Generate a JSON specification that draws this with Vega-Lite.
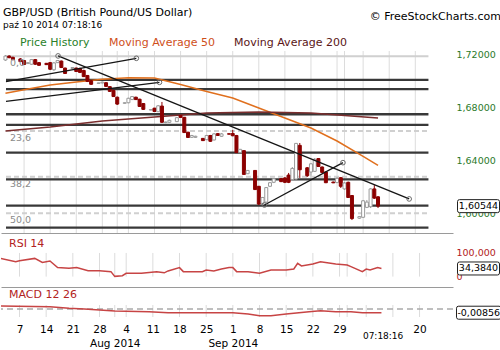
{
  "$schema": "https://vega.github.io/schema/vega-lite/v6.json",
  "autosize": "pad",
  "padding": {"left": 0, "top": 7, "right": 1.5, "bottom": 0},
  "background": "white",
  "bounds": "flush",
  "spacing": 19,
  "title": {"text": "© FreeStockCharts.com", "anchor": "end", "frame": "bounds", "fontSize": 11, "offset": 0, "dy": 15, "dx": -2},
  "config": {
    "view": {"stroke": null},
    "font": "DejaVu Sans",
    "title": {"fontWeight": "normal", "color": "#000000", "font": "DejaVu Sans", "subtitleFont": "DejaVu Sans"},
    "axis": {"labelFont": "DejaVu Sans", "labelOverlap": false},
    "locale": {"number": {"decimal": ",", "thousands": " ", "grouping": [3], "currency": ["", " zł"], "minus": "-"}}
  },
  "datasets": {
    "candles": [
      {"d":"2014-07-02","o":1.7162,"h":1.7200,"l":1.7155,"c":1.7192},
      {"d":"2014-07-03","o":1.7192,"h":1.7198,"l":1.7175,"c":1.7180},
      {"d":"2014-07-04","o":1.7182,"h":1.7188,"l":1.7160,"c":1.7165},
      {"d":"2014-07-06","o":1.7170,"h":1.7177,"l":1.7147,"c":1.7150},
      {"d":"2014-07-07","o":1.7158,"h":1.7162,"l":1.7124,"c":1.7128},
      {"d":"2014-07-08","o":1.7135,"h":1.7147,"l":1.7132,"c":1.7142},
      {"d":"2014-07-09","o":1.7130,"h":1.7170,"l":1.7124,"c":1.7165},
      {"d":"2014-07-10","o":1.7165,"h":1.7170,"l":1.7124,"c":1.7130},
      {"d":"2014-07-11","o":1.7142,"h":1.7147,"l":1.7117,"c":1.7122},
      {"d":"2014-07-13","o":1.7137,"h":1.7139,"l":1.7124,"c":1.7127},
      {"d":"2014-07-14","o":1.7142,"h":1.7147,"l":1.7086,"c":1.7092},
      {"d":"2014-07-15","o":1.7088,"h":1.7147,"l":1.7079,"c":1.7140},
      {"d":"2014-07-16","o":1.7142,"h":1.7162,"l":1.7139,"c":1.7158},
      {"d":"2014-07-17","o":1.7154,"h":1.7158,"l":1.7101,"c":1.7105},
      {"d":"2014-07-18","o":1.7101,"h":1.7104,"l":1.7056,"c":1.7060},
      {"d":"2014-07-20","o":1.7098,"h":1.7109,"l":1.7094,"c":1.7105},
      {"d":"2014-07-21","o":1.7101,"h":1.7104,"l":1.7071,"c":1.7075},
      {"d":"2014-07-22","o":1.7098,"h":1.7104,"l":1.7063,"c":1.7068},
      {"d":"2014-07-23","o":1.7083,"h":1.7088,"l":1.7033,"c":1.7036},
      {"d":"2014-07-24","o":1.7045,"h":1.7048,"l":1.6995,"c":1.7000},
      {"d":"2014-07-25","o":1.7005,"h":1.7010,"l":1.6973,"c":1.6978},
      {"d":"2014-07-27","o":1.6985,"h":1.6990,"l":1.6983,"c":1.6988},
      {"d":"2014-07-28","o":1.6988,"h":1.6997,"l":1.6985,"c":1.6994},
      {"d":"2014-07-29","o":1.6990,"h":1.6993,"l":1.6957,"c":1.6962},
      {"d":"2014-07-30","o":1.6960,"h":1.6962,"l":1.6920,"c":1.6924},
      {"d":"2014-07-31","o":1.6932,"h":1.6935,"l":1.6882,"c":1.6885},
      {"d":"2014-08-01","o":1.6880,"h":1.6885,"l":1.6821,"c":1.6828},
      {"d":"2014-08-03","o":1.6834,"h":1.6840,"l":1.6831,"c":1.6838},
      {"d":"2014-08-04","o":1.6838,"h":1.6876,"l":1.6834,"c":1.6872},
      {"d":"2014-08-05","o":1.6862,"h":1.6889,"l":1.6859,"c":1.6885},
      {"d":"2014-08-06","o":1.6880,"h":1.6884,"l":1.6859,"c":1.6862},
      {"d":"2014-08-07","o":1.6865,"h":1.6868,"l":1.6806,"c":1.6810},
      {"d":"2014-08-08","o":1.6832,"h":1.6836,"l":1.6783,"c":1.6788},
      {"d":"2014-08-10","o":1.6783,"h":1.6788,"l":1.6780,"c":1.6786},
      {"d":"2014-08-11","o":1.6797,"h":1.6799,"l":1.6768,"c":1.6772},
      {"d":"2014-08-12","o":1.6770,"h":1.6821,"l":1.6768,"c":1.6815},
      {"d":"2014-08-13","o":1.6813,"h":1.6844,"l":1.6685,"c":1.6690},
      {"d":"2014-08-14","o":1.6688,"h":1.6695,"l":1.6683,"c":1.6692},
      {"d":"2014-08-15","o":1.6690,"h":1.6710,"l":1.6685,"c":1.6705},
      {"d":"2014-08-17","o":1.6695,"h":1.6730,"l":1.6692,"c":1.6725},
      {"d":"2014-08-18","o":1.6742,"h":1.6745,"l":1.6723,"c":1.6727},
      {"d":"2014-08-19","o":1.6728,"h":1.6730,"l":1.6609,"c":1.6612},
      {"d":"2014-08-20","o":1.6615,"h":1.6617,"l":1.6571,"c":1.6575},
      {"d":"2014-08-21","o":1.6576,"h":1.6594,"l":1.6571,"c":1.6590},
      {"d":"2014-08-22","o":1.6576,"h":1.6588,"l":1.6571,"c":1.6584},
      {"d":"2014-08-24","o":1.6568,"h":1.6571,"l":1.6548,"c":1.6551},
      {"d":"2014-08-25","o":1.6558,"h":1.6594,"l":1.6556,"c":1.6590},
      {"d":"2014-08-26","o":1.6590,"h":1.6594,"l":1.6541,"c":1.6546},
      {"d":"2014-08-27","o":1.6556,"h":1.6609,"l":1.6552,"c":1.6602},
      {"d":"2014-08-28","o":1.6604,"h":1.6609,"l":1.6586,"c":1.6590},
      {"d":"2014-08-29","o":1.6584,"h":1.6609,"l":1.6579,"c":1.6602},
      {"d":"2014-08-31","o":1.6603,"h":1.6605,"l":1.6597,"c":1.6600},
      {"d":"2014-09-01","o":1.6605,"h":1.6632,"l":1.6584,"c":1.6588},
      {"d":"2014-09-02","o":1.6590,"h":1.6594,"l":1.6457,"c":1.6460},
      {"d":"2014-09-03","o":1.6460,"h":1.6488,"l":1.6457,"c":1.6485},
      {"d":"2014-09-04","o":1.6475,"h":1.6478,"l":1.6291,"c":1.6295},
      {"d":"2014-09-05","o":1.6300,"h":1.6328,"l":1.6298,"c":1.6325},
      {"d":"2014-09-07","o":1.6325,"h":1.6328,"l":1.6177,"c":1.6180},
      {"d":"2014-09-08","o":1.6205,"h":1.6207,"l":1.6063,"c":1.6070},
      {"d":"2014-09-09","o":1.6075,"h":1.6124,"l":1.6063,"c":1.6120},
      {"d":"2014-09-10","o":1.6085,"h":1.6199,"l":1.6078,"c":1.6195},
      {"d":"2014-09-11","o":1.6205,"h":1.6237,"l":1.6199,"c":1.6232},
      {"d":"2014-09-12","o":1.6235,"h":1.6268,"l":1.6229,"c":1.6262},
      {"d":"2014-09-14","o":1.6262,"h":1.6268,"l":1.6237,"c":1.6240},
      {"d":"2014-09-15","o":1.6268,"h":1.6275,"l":1.6229,"c":1.6235},
      {"d":"2014-09-16","o":1.6290,"h":1.6306,"l":1.6229,"c":1.6235},
      {"d":"2014-09-17","o":1.6255,"h":1.6351,"l":1.6253,"c":1.6340},
      {"d":"2014-09-18","o":1.6260,"h":1.6533,"l":1.6253,"c":1.6530},
      {"d":"2014-09-19","o":1.6515,"h":1.6533,"l":1.6268,"c":1.6330},
      {"d":"2014-09-21","o":1.6345,"h":1.6351,"l":1.6275,"c":1.6285},
      {"d":"2014-09-22","o":1.6313,"h":1.6381,"l":1.6285,"c":1.6375},
      {"d":"2014-09-23","o":1.6318,"h":1.6419,"l":1.6313,"c":1.6410},
      {"d":"2014-09-24","o":1.6415,"h":1.6419,"l":1.6351,"c":1.6355},
      {"d":"2014-09-25","o":1.6351,"h":1.6355,"l":1.6306,"c":1.6310},
      {"d":"2014-09-26","o":1.6313,"h":1.6317,"l":1.6229,"c":1.6232},
      {"d":"2014-09-28","o":1.6237,"h":1.6240,"l":1.6229,"c":1.6231},
      {"d":"2014-09-29","o":1.6233,"h":1.6275,"l":1.6229,"c":1.6265},
      {"d":"2014-09-30","o":1.6270,"h":1.6275,"l":1.6192,"c":1.6205},
      {"d":"2014-10-01","o":1.6185,"h":1.6237,"l":1.6177,"c":1.6230},
      {"d":"2014-10-02","o":1.6235,"h":1.6240,"l":1.6116,"c":1.6120},
      {"d":"2014-10-03","o":1.6135,"h":1.6139,"l":1.5949,"c":1.5960},
      {"d":"2014-10-05","o":1.5963,"h":1.5980,"l":1.5957,"c":1.5975},
      {"d":"2014-10-06","o":1.5970,"h":1.6101,"l":1.5965,"c":1.6095},
      {"d":"2014-10-07","o":1.6045,"h":1.6101,"l":1.6040,"c":1.6085},
      {"d":"2014-10-08","o":1.6050,"h":1.6192,"l":1.6040,"c":1.6185},
      {"d":"2014-10-09","o":1.6185,"h":1.6214,"l":1.6109,"c":1.6115},
      {"d":"2014-10-10","o":1.6125,"h":1.6131,"l":1.6040,"c":1.60544}
    ],
    "ma": [
      {"d":"2014-07-02","s":"Moving Average 50","v":1.6910},
      {"d":"2014-07-07","s":"Moving Average 50","v":1.6936},
      {"d":"2014-07-14","s":"Moving Average 50","v":1.6973},
      {"d":"2014-07-21","s":"Moving Average 50","v":1.6995},
      {"d":"2014-07-28","s":"Moving Average 50","v":1.7017},
      {"d":"2014-08-04","s":"Moving Average 50","v":1.7027},
      {"d":"2014-08-11","s":"Moving Average 50","v":1.7026},
      {"d":"2014-08-18","s":"Moving Average 50","v":1.6976},
      {"d":"2014-08-25","s":"Moving Average 50","v":1.6923},
      {"d":"2014-09-01","s":"Moving Average 50","v":1.6874},
      {"d":"2014-09-08","s":"Moving Average 50","v":1.6798},
      {"d":"2014-09-15","s":"Moving Average 50","v":1.6723},
      {"d":"2014-09-22","s":"Moving Average 50","v":1.6647},
      {"d":"2014-09-29","s":"Moving Average 50","v":1.6548},
      {"d":"2014-10-06","s":"Moving Average 50","v":1.6431},
      {"d":"2014-10-10","s":"Moving Average 50","v":1.6363},
      {"d":"2014-07-02","s":"Moving Average 200","v":1.6624},
      {"d":"2014-07-14","s":"Moving Average 200","v":1.6654},
      {"d":"2014-07-28","s":"Moving Average 200","v":1.6700},
      {"d":"2014-08-11","s":"Moving Average 200","v":1.6730},
      {"d":"2014-08-25","s":"Moving Average 200","v":1.6761},
      {"d":"2014-09-08","s":"Moving Average 200","v":1.6768},
      {"d":"2014-09-22","s":"Moving Average 200","v":1.6761},
      {"d":"2014-10-01","s":"Moving Average 200","v":1.6742},
      {"d":"2014-10-10","s":"Moving Average 200","v":1.6723}
    ],
    "hlines": [
      {"p":1.7011,"from":"2014-07-02T03:27:00Z","to":"2014-10-23T12:45:00Z"},
      {"p":1.6942,"from":"2014-07-02T03:27:00Z","to":"2014-10-23T12:45:00Z"},
      {"p":1.6751,"from":"2014-07-02T03:27:00Z","to":"2014-10-23T12:45:00Z"},
      {"p":1.6670,"from":"2014-07-02T03:27:00Z","to":"2014-10-23T12:45:00Z"},
      {"p":1.6460,"from":"2014-07-02T03:27:00Z","to":"2014-10-23T12:45:00Z"},
      {"p":1.6258,"from":"2014-07-02T03:27:00Z","to":"2014-10-23T12:45:00Z"},
      {"p":1.6058,"from":"2014-07-02T03:27:00Z","to":"2014-10-23T12:45:00Z"},
      {"p":1.5891,"from":"2014-07-02T03:27:00Z","to":"2014-10-23T12:45:00Z"}
    ],
    "fib": [
      {"lvl":"0,0","p":1.7190,"from":"2014-07-02T03:27:00Z","to":"2014-10-23T12:45:00Z"},
      {"lvl":"23,6","p":1.6624,"from":"2014-07-02T03:27:00Z","to":"2014-10-23T12:45:00Z"},
      {"lvl":"38,2","p":1.6278,"from":"2014-07-02T03:27:00Z","to":"2014-10-23T12:45:00Z"},
      {"lvl":"50,0","p":1.6000,"from":"2014-07-02T03:27:00Z","to":"2014-10-23T12:45:00Z"}
    ],
    "trend": [
      {"id":1,"d":"2014-07-02T03:27:00Z","p":1.6998,"knob":false},
      {"id":1,"d":"2014-08-06T03:00:00Z","p":1.7175,"knob":true},
      {"id":2,"d":"2014-07-02T03:27:00Z","p":1.6848,"knob":false},
      {"id":2,"d":"2014-08-12T08:00:00Z","p":1.6993,"knob":true},
      {"id":3,"d":"2014-07-16T03:00:00Z","p":1.7193,"knob":true},
      {"id":3,"d":"2014-10-18T08:40:00Z","p":1.6109,"knob":true},
      {"id":4,"d":"2014-09-09T12:00:00Z","p":1.6063,"knob":true},
      {"id":4,"d":"2014-09-30T14:00:00Z","p":1.6384,"knob":true}
    ],
    "grid": [
      {"d":"2014-07-07"},{"d":"2014-07-14"},{"d":"2014-07-21"},{"d":"2014-07-28"},
      {"d":"2014-08-01"},{"d":"2014-08-04"},{"d":"2014-08-11"},{"d":"2014-08-18"},{"d":"2014-08-25"},
      {"d":"2014-09-01"},{"d":"2014-09-08"},{"d":"2014-09-15"},{"d":"2014-09-22"},{"d":"2014-09-29"},
      {"d":"2014-10-01"},{"d":"2014-10-06"},{"d":"2014-10-13"},{"d":"2014-10-20"}
    ],
    "rsi": [
      {"d":"2014-07-02","v":77},{"d":"2014-07-06","v":63},{"d":"2014-07-07","v":67},{"d":"2014-07-11","v":77},
      {"d":"2014-07-13","v":60},{"d":"2014-07-15","v":66},{"d":"2014-07-17","v":38},{"d":"2014-07-20","v":35},
      {"d":"2014-07-22","v":38},{"d":"2014-07-25","v":25},{"d":"2014-07-28","v":25},{"d":"2014-07-31","v":21},
      {"d":"2014-08-01","v":1},{"d":"2014-08-03","v":4},{"d":"2014-08-04","v":14},{"d":"2014-08-08","v":14},
      {"d":"2014-08-12","v":21},{"d":"2014-08-14","v":16},{"d":"2014-08-15","v":24},{"d":"2014-08-18","v":38},
      {"d":"2014-08-19","v":21},{"d":"2014-08-24","v":21},{"d":"2014-08-25","v":28},{"d":"2014-08-27","v":24},
      {"d":"2014-08-29","v":32},{"d":"2014-08-31","v":38},{"d":"2014-09-01","v":38},{"d":"2014-09-02","v":21},
      {"d":"2014-09-05","v":21},{"d":"2014-09-08","v":14},{"d":"2014-09-11","v":28},{"d":"2014-09-15","v":28},
      {"d":"2014-09-17","v":32},{"d":"2014-09-18","v":56},{"d":"2014-09-19","v":45},{"d":"2014-09-22","v":53},
      {"d":"2014-09-24","v":63},{"d":"2014-09-28","v":53},{"d":"2014-10-01","v":49},{"d":"2014-10-02","v":42},
      {"d":"2014-10-05","v":21},{"d":"2014-10-06","v":32},{"d":"2014-10-07","v":28},{"d":"2014-10-09","v":38},
      {"d":"2014-10-10","v":34.384}
    ],
    "macd": [
      {"d":"2014-07-02","v":0.0069},{"d":"2014-07-15","v":0.0053},{"d":"2014-07-20","v":0.0016},
      {"d":"2014-07-24","v":0.0},{"d":"2014-07-28","v":-0.0023},{"d":"2014-08-01","v":-0.0046},
      {"d":"2014-08-10","v":-0.0062},{"d":"2014-08-15","v":-0.0085},{"d":"2014-09-01","v":-0.0085},
      {"d":"2014-09-05","v":-0.0116},{"d":"2014-09-08","v":-0.0155},{"d":"2014-09-11","v":-0.0155},
      {"d":"2014-09-15","v":-0.0116},{"d":"2014-09-21","v":-0.0062},{"d":"2014-09-24","v":-0.0039},
      {"d":"2014-09-28","v":-0.0062},{"d":"2014-10-02","v":-0.0062},{"d":"2014-10-05","v":-0.0085},
      {"d":"2014-10-10","v":-0.00856}
    ]
  },
  "vconcat": [
    {
      "width": 452,
      "height": 182,
      "title": {"text": "GBP/USD (British Pound/US Dollar)", "subtitle": "paź 10 2014 07:18:16", "anchor": "start", "frame": "group", "dx": 2, "fontSize": 11, "subtitleFontSize": 9, "subtitleColor": "#000000", "offset": 19.5, "subtitlePadding": 3},
      "layer": [
        {
          "data": {"name": "grid"},
          "mark": {"type": "rule", "color": "#dcdcdc", "strokeWidth": 1},
          "encoding": {
            "x": {"field": "d", "type": "temporal", "scale": {"type": "utc", "domain": [{"year": 2014, "month": "jul", "date": 2, "hours": 3, "minutes": 27, "utc": true}, {"year": 2014, "month": "oct", "date": 28, "hours": 18, "minutes": 44, "utc": true}]},
              "axis": {"orient": "bottom", "labels": false, "ticks": false, "grid": false, "domain": true, "domainColor": "#9a9a9a", "domainWidth": 1, "title": null}}
          }
        },
        {
          "data": {"name": "fib"},
          "mark": {"type": "rule", "color": "#d0d0d0", "strokeWidth": 2, "clip": true},
          "encoding": {
            "x": {"field": "from", "type": "temporal", "scale": {"type": "utc", "domain": [{"year": 2014, "month": "jul", "date": 2, "hours": 3, "minutes": 27, "utc": true}, {"year": 2014, "month": "oct", "date": 28, "hours": 18, "minutes": 44, "utc": true}]}},
            "x2": {"field": "to"},
            "y": {"field": "p", "type": "quantitative", "scale": {"domain": [1.58508, 1.72303], "nice": false, "zero": false},
              "axis": {"orient": "right", "values": [1.6, 1.62, 1.64, 1.66, 1.68, 1.7, 1.72], "format": ".5f", "labelColor": "#2a7a2a", "labelFontSize": 9.5, "labelPadding": 3, "ticks": false, "domain": false, "grid": false, "title": null}},
            "strokeDash": {"condition": {"test": "datum.lvl == '0,0'", "value": [1, 0]}, "value": [5, 3]}
          }
        },
        {
          "data": {"name": "hlines"},
          "mark": {"type": "rule", "color": "#383838", "strokeWidth": 2.3, "clip": true},
          "encoding": {
            "x": {"field": "from", "type": "temporal", "scale": {"type": "utc", "domain": [{"year": 2014, "month": "jul", "date": 2, "hours": 3, "minutes": 27, "utc": true}, {"year": 2014, "month": "oct", "date": 28, "hours": 18, "minutes": 44, "utc": true}]}},
            "x2": {"field": "to"},
            "y": {"field": "p", "type": "quantitative", "scale": {"domain": [1.58508, 1.72303], "nice": false, "zero": false}}
          }
        },
        {
          "data": {"name": "ma"},
          "mark": {"type": "line", "strokeWidth": 1.5, "clip": true},
          "encoding": {
            "x": {"field": "d", "type": "temporal", "scale": {"type": "utc", "domain": [{"year": 2014, "month": "jul", "date": 2, "hours": 3, "minutes": 27, "utc": true}, {"year": 2014, "month": "oct", "date": 28, "hours": 18, "minutes": 44, "utc": true}]}},
            "y": {"field": "v", "type": "quantitative", "scale": {"domain": [1.58508, 1.72303], "nice": false, "zero": false}},
            "color": {"field": "s", "type": "nominal",
              "scale": {"domain": ["Price History", "Moving Average 50", "Moving Average 200"], "range": ["#2a7f2a", "#e0701e", "#7a2e2e"]},
              "legend": {"orient": "none", "legendX": 8, "legendY": -14, "direction": "horizontal", "title": null, "symbolSize": 0, "symbolStrokeWidth": 0, "symbolOpacity": 0, "labelOffset": 0, "columnPadding": 8, "padding": 0, "labelFontSize": 11, "labelFont": "DejaVu Sans",
                "labelColor": {"expr": "datum.label === 'Price History' ? '#2a7f2a' : datum.label === 'Moving Average 50' ? '#cf4f1a' : '#5a1616'"}}}
          }
        },
        {
          "data": {"name": "candles"},
          "mark": {"type": "rule", "strokeWidth": 1, "clip": true},
          "encoding": {
            "x": {"field": "d", "type": "temporal", "scale": {"type": "utc", "domain": [{"year": 2014, "month": "jul", "date": 2, "hours": 3, "minutes": 27, "utc": true}, {"year": 2014, "month": "oct", "date": 28, "hours": 18, "minutes": 44, "utc": true}]}},
            "y": {"field": "l", "type": "quantitative", "scale": {"domain": [1.58508, 1.72303], "nice": false, "zero": false}},
            "y2": {"field": "h"},
            "stroke": {"condition": {"test": "datum.c >= datum.o", "value": "#9a9a9a"}, "value": "#8b0000"}
          }
        },
        {
          "data": {"name": "candles"},
          "mark": {"type": "bar", "width": 3, "strokeWidth": 1, "clip": true},
          "encoding": {
            "x": {"field": "d", "type": "temporal", "scale": {"type": "utc", "domain": [{"year": 2014, "month": "jul", "date": 2, "hours": 3, "minutes": 27, "utc": true}, {"year": 2014, "month": "oct", "date": 28, "hours": 18, "minutes": 44, "utc": true}]}},
            "y": {"field": "o", "type": "quantitative", "scale": {"domain": [1.58508, 1.72303], "nice": false, "zero": false}},
            "y2": {"field": "c"},
            "fill": {"condition": {"test": "datum.c >= datum.o", "value": "#ffffff"}, "value": "#8b0000"},
            "stroke": {"condition": {"test": "datum.c >= datum.o", "value": "#9a9a9a"}, "value": "#8b0000"}
          }
        },
        {
          "data": {"name": "trend"},
          "mark": {"type": "line", "color": "#151515", "strokeWidth": 1.3, "clip": true},
          "encoding": {
            "x": {"field": "d", "type": "temporal", "scale": {"type": "utc", "domain": [{"year": 2014, "month": "jul", "date": 2, "hours": 3, "minutes": 27, "utc": true}, {"year": 2014, "month": "oct", "date": 28, "hours": 18, "minutes": 44, "utc": true}]}},
            "y": {"field": "p", "type": "quantitative", "scale": {"domain": [1.58508, 1.72303], "nice": false, "zero": false}},
            "detail": {"field": "id"}
          }
        },
        {
          "data": {"name": "trend"},
          "transform": [{"filter": "datum.knob"}],
          "mark": {"type": "point", "shape": "circle", "size": 22, "filled": false, "stroke": "#6a6a6a", "strokeWidth": 1, "opacity": 1},
          "encoding": {
            "x": {"field": "d", "type": "temporal", "scale": {"type": "utc", "domain": [{"year": 2014, "month": "jul", "date": 2, "hours": 3, "minutes": 27, "utc": true}, {"year": 2014, "month": "oct", "date": 28, "hours": 18, "minutes": 44, "utc": true}]}},
            "y": {"field": "p", "type": "quantitative", "scale": {"domain": [1.58508, 1.72303], "nice": false, "zero": false}}
          }
        },
        {
          "data": {"name": "fib"},
          "mark": {"type": "text", "align": "left", "baseline": "top", "dx": 4, "dy": 2, "fontSize": 9.5, "color": "#8a8a8a"},
          "encoding": {
            "x": {"field": "from", "type": "temporal", "scale": {"type": "utc", "domain": [{"year": 2014, "month": "jul", "date": 2, "hours": 3, "minutes": 27, "utc": true}, {"year": 2014, "month": "oct", "date": 28, "hours": 18, "minutes": 44, "utc": true}]}},
            "y": {"field": "p", "type": "quantitative", "scale": {"domain": [1.58508, 1.72303], "nice": false, "zero": false}},
            "text": {"field": "lvl"}
          }
        },
        {
          "data": {"name": "candles"},
          "transform": [{"window": [{"op": "row_number", "as": "rn"}], "sort": [{"field": "d", "order": "descending"}]}, {"filter": "datum.rn == 1"}],
          "layer": [
            {
              "mark": {"type": "point", "shape": "M6.5,-6.5 H44.5 Q46.5,-6.5 46.5,-4.5 V4.5 Q46.5,6.5 44.5,6.5 H6.5 Q4.5,6.5 4.5,4.5 V-4.5 Q4.5,-6.5 6.5,-6.5 Z", "size": 4, "filled": true, "fill": "#ffffff", "stroke": "#222222", "strokeWidth": 1, "opacity": 1, "clip": false},
              "encoding": {
                "x": {"value": "width"},
                "y": {"field": "c", "type": "quantitative", "scale": {"domain": [1.58508, 1.72303], "nice": false, "zero": false}}
              }
            },
            {
              "mark": {"type": "text", "dx": 25.5, "fontSize": 9.5, "color": "#000000", "align": "center", "baseline": "middle"},
              "encoding": {
                "x": {"value": "width"},
                "y": {"field": "c", "type": "quantitative", "scale": {"domain": [1.58508, 1.72303], "nice": false, "zero": false}},
                "text": {"field": "c", "type": "quantitative", "format": ".5f"}
              }
            }
          ]
        }
      ]
    },
    {
      "width": 452,
      "height": 34,
      "title": {"text": "RSI 14", "anchor": "start", "frame": "group", "dx": 8, "color": "#b22222", "fontSize": 11, "offset": -12, "baseline": "bottom"},
      "layer": [
        {
          "data": {"name": "grid"},
          "mark": {"type": "rule", "color": "#dcdcdc", "strokeWidth": 1},
          "encoding": {
            "x": {"field": "d", "type": "temporal", "scale": {"type": "utc", "domain": [{"year": 2014, "month": "jul", "date": 2, "hours": 3, "minutes": 27, "utc": true}, {"year": 2014, "month": "oct", "date": 28, "hours": 18, "minutes": 44, "utc": true}]},
              "axis": {"orient": "bottom", "offset": 1, "labels": false, "ticks": false, "grid": false, "domain": true, "domainColor": "#9a9a9a", "domainWidth": 1, "title": null}},
            "y": {"datum": 100, "type": "quantitative", "scale": {"domain": [-39.8, 104.1], "nice": false, "zero": false},
              "axis": {"orient": "right", "values": [0, 100], "format": ".6r", "labelColor": "#b22222", "labelFontSize": 9.5, "labelPadding": 3, "ticks": false, "domain": false, "grid": false, "title": null}},
            "y2": {"datum": 0}
          }
        },
        {
          "data": {"name": "rsi"},
          "mark": {"type": "line", "color": "#c74444", "strokeWidth": 1.5, "clip": true},
          "encoding": {
            "x": {"field": "d", "type": "temporal", "scale": {"type": "utc", "domain": [{"year": 2014, "month": "jul", "date": 2, "hours": 3, "minutes": 27, "utc": true}, {"year": 2014, "month": "oct", "date": 28, "hours": 18, "minutes": 44, "utc": true}]}},
            "y": {"field": "v", "type": "quantitative", "scale": {"domain": [-39.8, 104.1], "nice": false, "zero": false}}
          }
        },
        {
          "data": {"name": "rsi"},
          "transform": [{"window": [{"op": "row_number", "as": "rn"}], "sort": [{"field": "d", "order": "descending"}]}, {"filter": "datum.rn == 1"}],
          "layer": [
            {
              "mark": {"type": "point", "shape": "M6.5,-6.5 H44.5 Q46.5,-6.5 46.5,-4.5 V4.5 Q46.5,6.5 44.5,6.5 H6.5 Q4.5,6.5 4.5,4.5 V-4.5 Q4.5,-6.5 6.5,-6.5 Z", "size": 4, "filled": true, "fill": "#ffffff", "stroke": "#222222", "strokeWidth": 1, "opacity": 1, "clip": false},
              "encoding": {
                "x": {"value": "width"},
                "y": {"field": "v", "type": "quantitative", "scale": {"domain": [-39.8, 104.1], "nice": false, "zero": false}}
              }
            },
            {
              "mark": {"type": "text", "dx": 25.5, "fontSize": 9.5, "color": "#000000", "align": "center", "baseline": "middle"},
              "encoding": {
                "x": {"value": "width"},
                "y": {"field": "v", "type": "quantitative", "scale": {"domain": [-39.8, 104.1], "nice": false, "zero": false}},
                "text": {"field": "v", "type": "quantitative", "format": ".6r"}
              }
            }
          ]
        }
      ]
    },
    {
      "width": 452,
      "height": 12,
      "title": {"text": "MACD 12 26", "anchor": "start", "frame": "group", "dx": 8, "color": "#b22222", "fontSize": 11, "offset": -7, "baseline": "bottom"},
      "resolve": {"axis": {"x": "independent"}},
      "layer": [
        {
          "data": {"name": "grid"},
          "mark": {"type": "rule", "color": "#dcdcdc", "strokeWidth": 1},
          "encoding": {
            "x": {"field": "d", "type": "temporal", "scale": {"type": "utc", "domain": [{"year": 2014, "month": "jul", "date": 2, "hours": 3, "minutes": 27, "utc": true}, {"year": 2014, "month": "oct", "date": 28, "hours": 18, "minutes": 44, "utc": true}]},
              "axis": {"orient": "bottom", "title": null, "ticks": false, "domain": false, "grid": false, "labelFlush": false, "labelOverlap": false, "labelSeparation": -50, "tickCount": 40, "labelColor": "#000000", "labelFontSize": 10.5, "labelPadding": 7,
                "values": [1404691200000, 1405296000000, 1405900800000, 1406505600000, 1407110400000, 1407715200000, 1408320000000, 1408924800000, 1409529600000, 1410134400000, 1410739200000, 1411344000000, 1411948800000, 1413763200000],
                "labelExpr": "utcFormat(datum.value, '%-d')"
              }
            }
          }
        },
        {
          "data": {"values": [{"level": 0}]},
          "mark": {"type": "rule", "color": "#aaaaaa", "strokeWidth": 1.5, "strokeDash": [6, 4]},
          "encoding": {
            "y": {"field": "level", "type": "quantitative", "scale": {"domain": [-0.01848, 0.00924], "nice": false, "zero": false},
              "axis": {"orient": "right", "values": [0], "format": ".6r", "labelColor": "#b22222", "labelFontSize": 9.5, "labelPadding": 3, "ticks": false, "domain": false, "grid": false, "title": null}}
          }
        },
        {
          "data": {"name": "macd"},
          "mark": {"type": "line", "color": "#c74444", "strokeWidth": 1.5, "clip": true},
          "encoding": {
            "x": {"field": "d", "type": "temporal", "scale": {"type": "utc", "domain": [{"year": 2014, "month": "jul", "date": 2, "hours": 3, "minutes": 27, "utc": true}, {"year": 2014, "month": "oct", "date": 28, "hours": 18, "minutes": 44, "utc": true}]},
              "axis": {"orient": "bottom", "title": null, "ticks": false, "domain": false, "grid": false, "labelFlush": false, "labelOverlap": false, "labelColor": "#000000",
                "values": [1406851200000, 1409529600000, 1412925496000],
                "labelExpr": "utchours(datum.value) > 0 ? utcFormat(datum.value, '%H:%M:%S') : utcFormat(datum.value, '%b %Y')",
                "labelFontSize": {"condition": {"test": "utchours(datum.value) > 0", "value": 9}, "value": 10.5},
                "labelPadding": {"condition": {"test": "utchours(datum.value) > 0", "value": 14}, "value": 21}
              }},
            "y": {"field": "v", "type": "quantitative", "scale": {"domain": [-0.01848, 0.00924], "nice": false, "zero": false}}
          }
        },
        {
          "data": {"name": "macd"},
          "transform": [{"window": [{"op": "row_number", "as": "rn"}], "sort": [{"field": "d", "order": "descending"}]}, {"filter": "datum.rn == 1"}],
          "layer": [
            {
              "mark": {"type": "point", "shape": "M5.5,-6.5 H46 Q48,-6.5 48,-4.5 V4.5 Q48,6.5 46,6.5 H5.5 Q3.5,6.5 3.5,4.5 V-4.5 Q3.5,-6.5 5.5,-6.5 Z", "size": 4, "filled": true, "fill": "#ffffff", "stroke": "#222222", "strokeWidth": 1, "opacity": 1, "clip": false},
              "encoding": {
                "x": {"value": "width"},
                "y": {"field": "v", "type": "quantitative", "scale": {"domain": [-0.01848, 0.00924], "nice": false, "zero": false}}
              }
            },
            {
              "mark": {"type": "text", "dx": 25.75, "fontSize": 9.5, "color": "#000000", "align": "center", "baseline": "middle"},
              "encoding": {
                "x": {"value": "width"},
                "y": {"field": "v", "type": "quantitative", "scale": {"domain": [-0.01848, 0.00924], "nice": false, "zero": false}},
                "text": {"field": "v", "type": "quantitative", "format": ".5f"}
              }
            }
          ]
        }
      ]
    }
  ]
}
